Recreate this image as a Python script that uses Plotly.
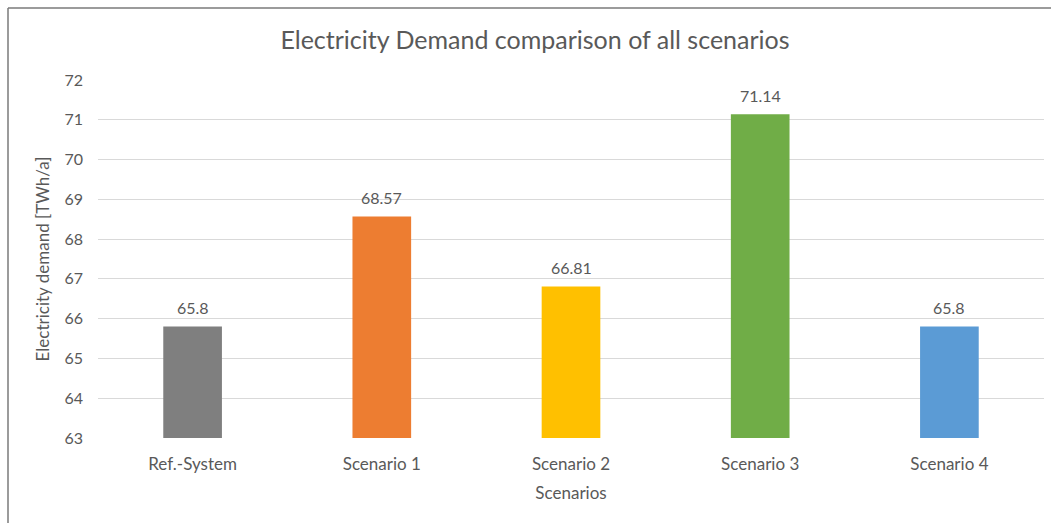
import plotly.graph_objects as go

categories = ["Ref.-System", "Scenario 1", "Scenario 2", "Scenario 3", "Scenario 4"]
values = [65.8, 68.57, 66.81, 71.14, 65.8]
labels = ["65.8", "68.57", "66.81", "71.14", "65.8"]
colors = ["#7f7f7f", "#ed7d31", "#ffc000", "#70ad47", "#5b9bd5"]
y_ticks = [63, 64, 65, 66, 67, 68, 69, 70, 71, 72]
base_value = 63

W, H = 1051, 523
ML, MR, MT, MB = 98, 7, 80, 85
pw = W - ML - MR
ph = H - MT - MB

def px_x(px):
    return (px - ML) / pw

def px_y(py):
    return (H - MB - py) / ph

font = "Lato, 'Open Sans', sans-serif"
txt = "#595959"

fig = go.Figure(go.Bar(
    x=categories, y=[v - base_value for v in values], base=base_value,
    marker=dict(color=colors, line=dict(width=0)),
    hoverinfo="skip",
))

annotations = [
    dict(x=c, y=v, text=t, showarrow=False, xref="x", yref="y",
         yanchor="middle", yshift=19, font=dict(size=16, color=txt, family=font))
    for c, v, t in zip(categories, values, labels)
]

fig.update_layout(
    width=W, height=H,
    margin=dict(l=ML, r=MR, t=MT, b=MB),
    paper_bgcolor="white", plot_bgcolor="white",
    bargap=0.69,
    showlegend=False,
    annotations=annotations,
    title=dict(text="Electricity Demand comparison of all scenarios",
               x=535 / W, xanchor="center", y=1 - 40 / H, yanchor="middle",
               font=dict(size=25, color=txt, family=font)),
    xaxis=dict(title=dict(text="Scenarios", font=dict(size=17, color=txt, family=font), standoff=14),
               tickfont=dict(size=17, color=txt, family=font),
               showline=False, ticks="", ticklabelstandoff=14),
    yaxis=dict(title=dict(text="Electricity demand [TWh/a]", font=dict(size=17, color=txt, family=font), standoff=10),
               range=[63, 72], tickvals=y_ticks,
               tickfont=dict(size=16, color=txt, family=font),
               gridcolor="#d9d9d9", gridwidth=1, zeroline=False, ticks="",
               ticklabelstandoff=14),
    shapes=[
        dict(type="line", xref="paper", yref="paper", x0=px_x(8), x1=px_x(W + 5), y0=px_y(8), y1=px_y(8),
             line=dict(color="#7a7a7a", width=1.5)),
        dict(type="line", xref="paper", yref="paper", x0=px_x(8), x1=px_x(8), y0=px_y(8), y1=px_y(H + 5),
             line=dict(color="#7a7a7a", width=1.5)),
    ],
)

fig.write_html("out.html")
